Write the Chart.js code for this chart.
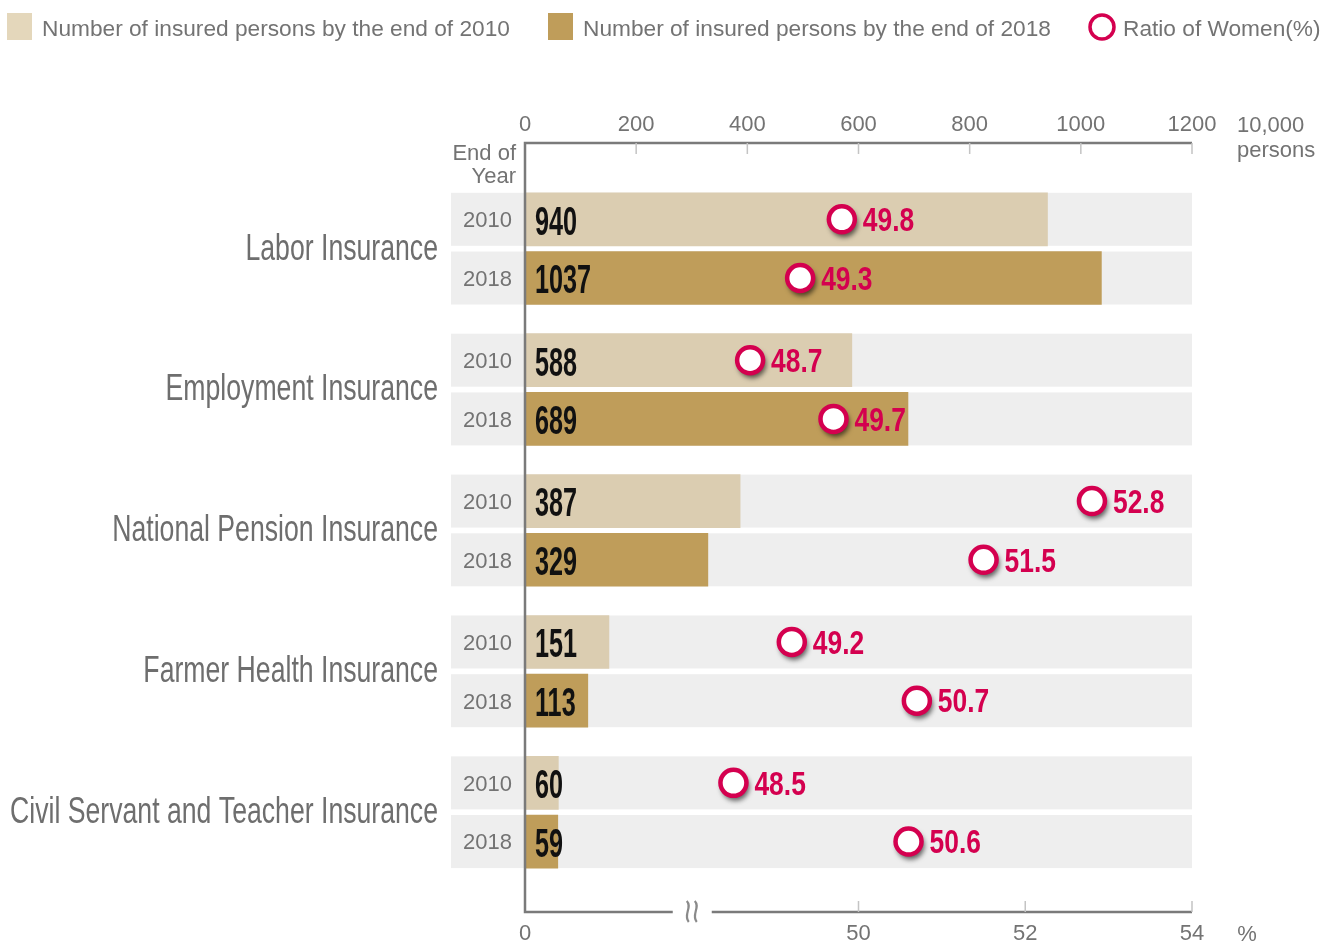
<!DOCTYPE html>
<html>
<head>
<meta charset="utf-8">
<title>Insured persons</title>
<script src="https://cdn.jsdelivr.net/npm/chart.js@4.4.1/dist/chart.umd.min.js"></script>
<style>
  html, body { margin: 0; padding: 0; background: #fff; }
</style>
</head>
<body>
<canvas id="insuredChart" width="1325" height="942"></canvas>
<script>
// data
const categories = ['Labor Insurance', 'Employment Insurance', 'National Pension Insurance',
  'Farmer Health Insurance', 'Civil Servant and Teacher Insurance'];
const years = ['2010', '2018'];
const insured2010 = [940, 588, 387, 151, 60];
const insured2018 = [1037, 689, 329, 113, 59];
const women2010 = [49.8, 48.7, 52.8, 49.2, 48.5];
const women2018 = [49.3, 49.7, 51.5, 50.7, 50.6];
const countTicks = [0, 200, 400, 600, 800, 1000, 1200];
const pctTicks = [46, 50, 52, 54];   // 46 sits on the origin and is shown as "0" (broken axis)
const pctBreak = 48;

const FONT = '"Liberation Sans", Arial, Helvetica, sans-serif';
const GRAY = '#737373';
const RED = '#d4004f';
const LIGHT = '#dbcdb1';
const DARK = '#bf9d5a';
const GROUP_STEP = 2.4;

// vertical slot of a row: group g, year index i
const rowPos = (g, i) => g * GROUP_STEP + i;

const ratioPoints = [];
const ratioValues = [];
categories.forEach((c, g) => {
  ratioPoints.push({ x: women2010[g], y: rowPos(g, 0) });
  ratioPoints.push({ x: women2018[g], y: rowPos(g, 1) });
  ratioValues.push(women2010[g], women2018[g]);
});

function condText(ctx, text, x, cy, size, weight, color, align, sx) {
  ctx.save();
  ctx.font = weight + ' ' + size + 'px ' + FONT;
  ctx.fillStyle = color;
  ctx.textBaseline = 'alphabetic';
  ctx.textAlign = align;
  ctx.translate(x, cy + size * 0.358);
  ctx.scale(sx, 1);
  ctx.fillText(text, 0, 0);
  ctx.restore();
}

const backgroundBands = {
  id: 'backgroundBands',
  beforeDatasetsDraw(chart) {
    const { ctx, chartArea } = chart;
    ctx.save();
    ctx.fillStyle = '#eeeeee';
    [0, 1].forEach(di => {
      chart.getDatasetMeta(di).data.forEach(bar => {
        const x0 = chartArea.left - 74;
        ctx.fillRect(x0, bar.y - bar.height / 2, chartArea.right - x0, bar.height);
      });
    });
    ctx.restore();
  }
};

const pointShadow = {
  id: 'pointShadow',
  beforeDatasetDraw(chart, args) {
    if (args.index !== 2) return;
    const ctx = chart.ctx;
    ctx.save();
    ctx.shadowColor = 'rgba(0,0,0,0.6)';
    ctx.shadowBlur = 5;
    ctx.shadowOffsetX = 2;
    ctx.shadowOffsetY = 4;
    ctx.fillStyle = RED;
    args.meta.data.forEach(p => {
      ctx.beginPath();
      ctx.arc(p.x, p.y, 14, 0, Math.PI * 2);
      ctx.fill();
    });
    ctx.restore();
  }
};

const decorations = {
  id: 'decorations',
  afterDatasetsDraw(chart) {
    const { ctx, chartArea } = chart;
    const { left, right, top, bottom } = chartArea;
    const xs = chart.scales.x;
    const ps = chart.scales.pct;

    // values on bars
    [[0, insured2010], [1, insured2018]].forEach(([di, vals]) => {
      chart.getDatasetMeta(di).data.forEach((bar, k) => {
        condText(ctx, String(vals[k]), left + 10, bar.y + 1, 40, 'bold', '#111', 'left', 0.63);
        condText(ctx, years[di], left - 13, bar.y, 22, 'normal', GRAY, 'right', 1);
      });
    });
    // ratio labels
    chart.getDatasetMeta(2).data.forEach((p, k) => {
      condText(ctx, ratioValues[k].toFixed(1), p.x + 21, p.y, 33, 'bold', RED, 'left', 0.8);
    });
    // category labels
    const m0 = chart.getDatasetMeta(0).data, m1 = chart.getDatasetMeta(1).data;
    categories.forEach((c, g) => {
      const cy = (m0[g].y + m1[g].y) / 2 - 2;
      condText(ctx, c, left - 87, cy, 36, 'normal', '#6e6e6e', 'right', 0.74);
    });

    // axes
    ctx.save();
    ctx.strokeStyle = '#7a7a7a';
    ctx.lineWidth = 2.5;
    ctx.beginPath();
    ctx.moveTo(right, top); ctx.lineTo(left, top); ctx.lineTo(left, bottom);
    const bx = ps.getPixelForValue(pctBreak);
    ctx.lineTo(bx - 19, bottom);
    ctx.moveTo(bx + 20, bottom); ctx.lineTo(right, bottom);
    ctx.stroke();

    ctx.strokeStyle = '#c4c4c4';
    ctx.lineWidth = 1.5;
    ctx.beginPath();
    countTicks.forEach(v => {
      if (v === 0) return;
      const x = xs.getPixelForValue(v);
      ctx.moveTo(x, top); ctx.lineTo(x, top + 11);
    });
    pctTicks.forEach(v => {
      if (v === pctTicks[0]) return;
      const x = ps.getPixelForValue(v);
      ctx.moveTo(x, bottom); ctx.lineTo(x, bottom - 11);
    });
    ctx.stroke();

    // break symbol
    ctx.strokeStyle = '#8a8a8a';
    ctx.lineWidth = 2.2;
    [-4, 4].forEach(off => {
      const x = bx + off;
      ctx.beginPath();
      ctx.moveTo(x - 1, bottom - 11);
      ctx.bezierCurveTo(x + 5, bottom - 5, x - 5, bottom + 3, x + 1, bottom + 10);
      ctx.stroke();
    });
    ctx.restore();

    // axis captions
    condText(ctx, 'End of', left - 9, top + 9, 22, 'normal', GRAY, 'right', 1);
    condText(ctx, 'Year', left - 9, top + 32, 22, 'normal', GRAY, 'right', 1);
    condText(ctx, '10,000', right + 45, top - 19, 22, 'normal', GRAY, 'left', 1);
    condText(ctx, 'persons', right + 45, top + 6, 22, 'normal', GRAY, 'left', 1);
    condText(ctx, '%', right + 55, bottom + 21, 22, 'normal', GRAY, 'center', 1);

    // legend
    ctx.save();
    ctx.fillStyle = '#e4d7bb';
    ctx.fillRect(7, 13, 25, 27);
    ctx.fillStyle = DARK;
    ctx.fillRect(548, 13, 25, 27);
    ctx.strokeStyle = RED;
    ctx.lineWidth = 3.5;
    ctx.beginPath();
    ctx.arc(1102, 27, 12, 0, Math.PI * 2);
    ctx.stroke();
    ctx.restore();
    condText(ctx, 'Number of insured persons by the end of ' + years[0], 42, 28, 22.7, 'normal', GRAY, 'left', 1);
    condText(ctx, 'Number of insured persons by the end of ' + years[1], 583, 28, 22.7, 'normal', GRAY, 'left', 1);
    condText(ctx, 'Ratio of Women(%)', 1123, 28, 22.7, 'normal', GRAY, 'left', 1);
  }
};

new Chart(document.getElementById('insuredChart'), {
  type: 'bar',
  data: {
    datasets: [
      {
        label: 'Number of insured persons by the end of 2010',
        data: insured2010.map((v, g) => ({ x: v, y: rowPos(g, 0) })),
        backgroundColor: LIGHT,
        xAxisID: 'x', yAxisID: 'y',
        grouped: false, barThickness: 53, order: 1
      },
      {
        label: 'Number of insured persons by the end of 2018',
        data: insured2018.map((v, g) => ({ x: v, y: rowPos(g, 1) })),
        backgroundColor: DARK,
        xAxisID: 'x', yAxisID: 'y',
        grouped: false, barThickness: 53, order: 1
      },
      {
        type: 'scatter',
        label: 'Ratio of Women(%)',
        data: ratioPoints,
        xAxisID: 'pct', yAxisID: 'y',
        pointRadius: 13, pointBorderWidth: 4.5,
        pointBackgroundColor: '#ffffff', pointBorderColor: RED,
        order: 0
      }
    ]
  },
  options: {
    responsive: false,
    animation: false,
    indexAxis: 'y',
    layout: { padding: { left: 525, right: 133, top: 103, bottom: 0 } },
    plugins: { legend: { display: false }, tooltip: { enabled: false } },
    scales: {
      x: {
        type: 'linear', position: 'top', min: 0, max: 1200,
        afterBuildTicks: s => { s.ticks = countTicks.map(v => ({ value: v })); },
        grid: { display: false, drawTicks: false },
        border: { display: false },
        ticks: {
          font: { size: 22, family: FONT }, color: GRAY, padding: 5, maxRotation: 0,
          callback: v => String(v)
        },
        afterFit: s => { s.height = 40; }
      },
      pct: {
        type: 'linear', position: 'bottom', min: 46, max: 54,
        afterBuildTicks: s => { s.ticks = pctTicks.map(v => ({ value: v })); },
        grid: { display: false, drawTicks: false },
        border: { display: false },
        ticks: {
          font: { size: 22, family: FONT }, color: GRAY, padding: 9, maxRotation: 0,
          callback: v => (v === pctTicks[0] ? '0' : String(v))
        },
        afterFit: s => { s.height = 30; }
      },
      y: {
        type: 'linear', min: -1.3, max: 11.8, reverse: true, offset: false,
        display: false, grid: { offset: false }
      }
    }
  },
  plugins: [backgroundBands, pointShadow, decorations]
});
</script>
</body>
</html>
